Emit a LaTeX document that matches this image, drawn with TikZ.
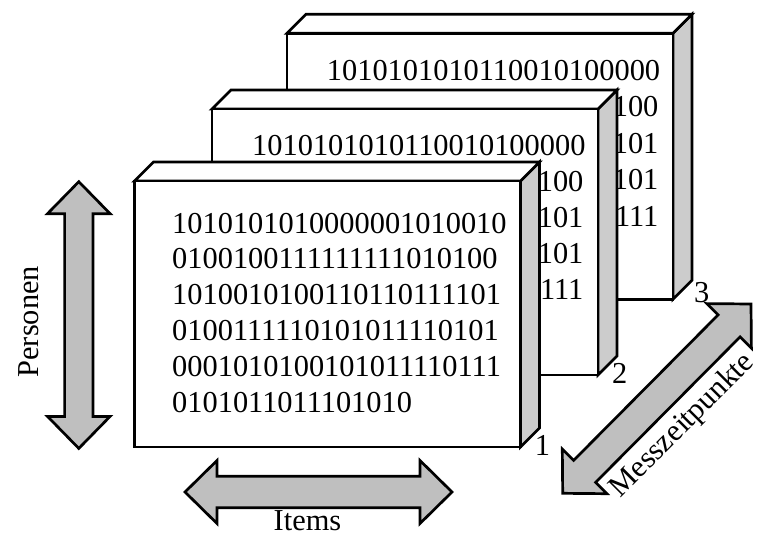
\documentclass[tikz,border=0pt]{standalone}
\usepackage{fontspec}
\setmainfont{Liberation Serif}
\definecolor{sidegray}{gray}{0.8}
\definecolor{arrowgray}{gray}{0.75}

% one data slab: front face, top face and shaded right face
\newcommand\slabfaces[3]{% #1 name, #2 left x, #3 top y
  \draw[side] ({#2+386},#3) -- ++(19,-19) -- ++(0,266) -- ++(-19,19) -- cycle;
  \draw[face] (#2,#3) -- ++(19,-19) -- ++(386,0) -- ++(-19,19) -- cycle;
  \draw[face] (#2,#3) rectangle ++(386,266) coordinate (#1-se);
}

\begin{document}
\begin{tikzpicture}[x=1pt,y=-1pt,
  outline/.style={draw=black, line width=2.7pt, line join=miter},
  face/.style={outline, fill=white},
  side/.style={outline, fill=sidegray},
  arrowbody/.style={outline, fill=arrowgray},
  bits/.style={font=\fontsize{30.4}{36}\selectfont, inner sep=0pt, anchor=base west},
  tailbits/.style={bits, anchor=base east},
  lbl/.style={font=\fontsize{30.4}{36}\selectfont, inner sep=0pt},
]
\useasboundingbox (0,0) rectangle (757,535);

% slab 3 (back): first row, then the row ends that stay in view
\slabfaces{s3}{287}{33.3}
\node[bits] (s3-l1) at (326.7,80) {1010101010110010100000};
\foreach \t [count=\i from 2] in {100,101,101,111}
  \node[tailbits] (s3-l\i) at (658.6,{80+36.5*(\i-1)}) {\t};
\node[lbl, anchor=base west] (n3) at (694,302) {3};

% slab 2 (middle)
\slabfaces{s2}{212}{109}
\node[bits] (s2-l1) at (252,155.5) {1010101010110010100000};
\foreach \t [count=\i from 2] in {100,101,101,111}
  \node[tailbits] (s2-l\i) at (583.6,{155.5+36*(\i-1)}) {\t};
\node[lbl, anchor=base west] (n2) at (612,383) {2};

% slab 1 (front)
\slabfaces{s1}{134.5}{181}
\foreach \t [count=\i] in {1010101010000001010010,0100100111111111010100,
    1010010100110110111101,0100111110101011110101,0001010100101011110111,
    0101011011101010}
  \node[bits] (s1-l\i) at (172,{233+35.8*(\i-1)}) {\t};
\node[lbl, anchor=base west] (n1) at (534.7,455) {1};

% axis arrows
\draw[arrowbody] (78.8,181.7) -- (110.1,213.7) -- (93,213.7) -- (93,416.4)
  -- (110.1,416.4) -- (78.8,448.4) -- (47.5,416.4) -- (64.6,416.4)
  -- (64.6,213.7) -- (47.5,213.7) -- cycle;
\node[lbl, rotate=90, anchor=base] (personen) at (38.5,321.7) {Personen};

\draw[arrowbody] (185,492) -- (217,460.5) -- (217,476.2) -- (420,476.2)
  -- (420,460.5) -- (452,492) -- (420,523.5) -- (420,507.8) -- (217,507.8)
  -- (217,523.5) -- cycle;
\node[lbl, anchor=base] (items) at (307.5,530.5) {Items};

\draw[arrowbody] (751,304) -- (751.4,348.2) -- (740.1,336.9) -- (595.6,482.4)
  -- (606.9,493.7) -- (562.7,493.3) -- (562.3,449.1) -- (573.6,460.4)
  -- (718.1,314.9) -- (706.8,303.6) -- cycle;
\node[lbl, rotate=45, anchor=base] (mzp) at (688,431) {Messzeitpunkte};
\end{tikzpicture}
\end{document}
